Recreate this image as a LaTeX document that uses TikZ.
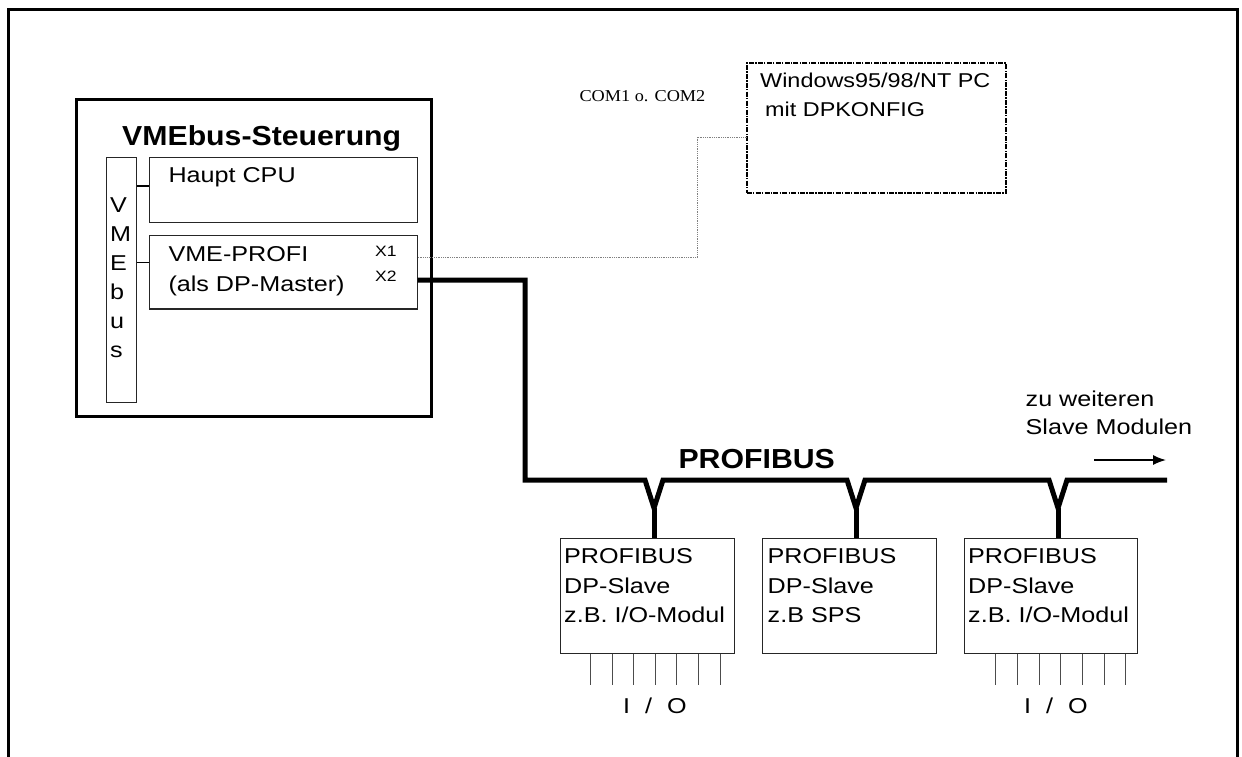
\documentclass[tikz,border=0pt]{standalone}
\usepackage{fontspec}
\setmainfont{Liberation Sans}[FakeStretch=1.17]
\newfontfamily\titlef{Liberation Sans}[FakeStretch=1.1]
\newfontfamily\serf{Liberation Serif}[FakeStretch=1.1]
\usetikzlibrary{arrows.meta,fit}
\begin{document}
\begin{tikzpicture}[x=1pt,y=-1pt,
  thinbox/.style={draw=black!85, line width=1.3pt, inner sep=0pt, outer sep=0pt},
  thickbox/.style={draw=black, line width=3pt, inner sep=0pt, outer sep=0pt},
  pcbox/.style={draw=black, line width=1.8pt, dash pattern=on 5pt off 1.3pt on 1.3pt off 1.3pt, inner sep=0pt, outer sep=0pt},
  lbl/.style={inner sep=0pt, anchor=base west, font=\fontsize{21.5}{24}\selectfont},
  pclbl/.style={inner sep=0pt, anchor=base west, font=\fontsize{20}{24}\selectfont},
  small/.style={inner sep=0pt, anchor=base west, font=\fontsize{15}{18}\selectfont},
  bold/.style={inner sep=0pt, anchor=base, font=\titlef\bfseries\fontsize{27.5}{30}\selectfont},
  bus/.style={line width=5pt, line join=miter, line cap=butt},
  stub/.style={line width=1.5pt},
  serial/.style={draw=black!50, line width=1.1pt, dash pattern=on 1pt off 0.8pt},
  pin/.style={draw=black!70, line width=1.2pt},
  iolbl/.style={inner sep=0pt, anchor=base, font=\fontsize{21.5}{24}\selectfont},
]
\useasboundingbox (0,0) rectangle (1242,756);
% outer frame
\draw[line width=3pt] (8,9) rectangle (1237,762);

% VMEbus controller
\node[thickbox, fit={(76.7,99.3) (431.7,416)}] (vme) {};
\node[bold] (title) at (261.7,145) {VMEbus-Steuerung};
\node[thinbox, fit={(106.7,157.3) (136.7,402.3)}] (bar) {};
\foreach \c/\y [count=\i] in {V/212,M/241,E/270,b/299,u/328,s/357}
  \node[lbl] (bl\i) at (110,\y) {\c};
\node[thinbox, fit={(149.3,157.3) (417.7,222.7)}] (cpu) {};
\node[lbl] (cput) at (168.3,182.7) {Haupt CPU};
\node[thinbox, fit={(149.3,235.7) (417.7,309)}] (profi) {};
\node[lbl] (pt1) at (168.3,261.7) {VME-PROFI};
\node[lbl] (pt2) at (168.3,291.7) {(als DP-Master)};
\node[small] (x1) at (375,256.7) {X1};
\node[small] (x2) at (375,281.7) {X2};
\coordinate (ycpu) at (0,186);
\coordinate (yprofi) at (0,262.3);
\draw[stub] (bar.east |- ycpu) -- (cpu.west |- ycpu);
\draw[stub] (bar.east |- yprofi) -- (profi.west |- yprofi);

% PC
\node[pcbox, fit={(746.7,63.3) (1006,192.7)}] (pc) {};
\node[pclbl] (pct1) at (760,87.3) {Windows95/98/NT PC};
\node[pclbl] (pct2) at (765,116.7) {mit DPKONFIG};
\node[inner sep=0pt, anchor=base west, font=\serf\fontsize{16.6}{20}\selectfont] (com) at (579.3,101.7) {COM1 o. COM2};
\coordinate (yx1) at (0,257.3);
\coordinate (ypc) at (0,137.7);
\coordinate (sx) at (697.7,0);
\draw[serial] (profi.east |- yx1) -- (sx |- yx1) -- (sx |- ypc) -- (pc.west |- ypc);

% slaves
\node[thinbox, fit={(560.7,538.3) (734.3,653.5)}] (s1) {};
\node[thinbox, fit={(762.3,538.3) (936.7,653.5)}] (s2) {};
\node[thinbox, fit={(964.3,538.3) (1137.7,653.5)}] (s3) {};
\foreach \n/\x/\t in {1/564/{z.B. I/O-Modul},2/767.5/{z.B SPS},3/968/{z.B. I/O-Modul}}{
  \node[lbl] (s\n a) at (\x,563.5) {PROFIBUS};
  \node[lbl] (s\n b) at (\x,593) {DP-Slave};
  \node[lbl] (s\n c) at (\x,622.5) {\t};
}
% taps
\coordinate (t1) at (654,508);
\coordinate (t2) at (856,508);
\coordinate (t3) at (1058,508);
\coordinate (busend) at (1167,480);
\coordinate (ybus) at (0,480);
\coordinate (bx) at (525,0);
\coordinate (yx2) at (0,280);
\draw[bus] (profi.east |- yx2) -- (bx |- yx2) -- (bx |- ybus)
  -- ([xshift=-9pt]t1 |- ybus) -- (t1) -- ([xshift=9pt]t1 |- ybus)
  -- ([xshift=-9pt]t2 |- ybus) -- (t2) -- ([xshift=9pt]t2 |- ybus)
  -- ([xshift=-9pt]t3 |- ybus) -- (t3) -- ([xshift=9pt]t3 |- ybus)
  -- (busend);
\draw[bus] (t1) -- (t1 |- s1.north);
\draw[bus] (t2) -- (t2 |- s2.north);
\draw[bus] (t3) -- (t3 |- s3.north);
\node[bold] (pb) at (756.7,468.3) {PROFIBUS};

% pins
\foreach \x in {590.6,612.2,633.7,655.7,676.8,698.7,720.3}
  \draw[pin] (\x,0 |- s1.south) -- (\x,685);
\foreach \x in {995.7,1017.3,1039.3,1060.8,1082.3,1104.3,1125.8}
  \draw[pin] (\x,0 |- s3.south) -- (\x,685);
\node[iolbl] (io1) at (655,713) {I\hspace{15pt}/\hspace{15pt}O};
\node[iolbl] (io3) at (1056,713) {I\hspace{15pt}/\hspace{15pt}O};

% further slaves
\node[lbl] (zw1) at (1025.5,406) {zu weiteren};
\node[lbl] (zw2) at (1025.5,434) {Slave Modulen};
\coordinate (a1) at (1094,460);
\coordinate (a2) at (1166,460);
\draw[line width=1.5pt, -{Latex[length=13pt,width=10pt]}] (a1) -- (a2);
\end{tikzpicture}
\end{document}
